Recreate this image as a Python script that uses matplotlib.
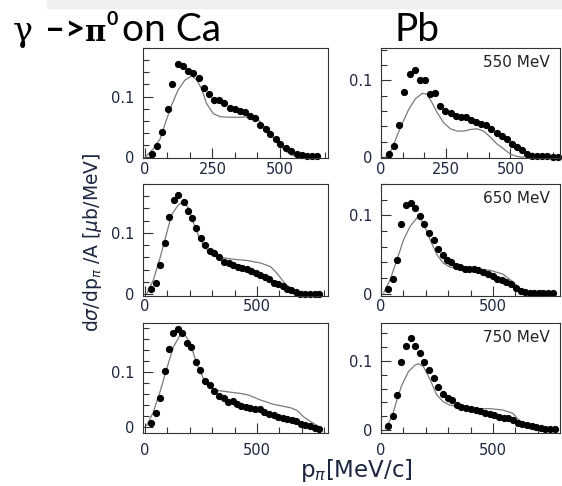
import numpy as np
import matplotlib.pyplot as plt
from matplotlib.ticker import MultipleLocator, FixedLocator
from matplotlib.patches import Rectangle

plt.rcParams['font.family'] = ['DejaVu Sans']

# ---- Ca, 550 MeV ----
ca550_x = [25, 43, 65, 84, 102, 121, 140, 158, 179, 200, 219, 236, 256, 275, 294, 315,
           333, 352, 370, 389, 409, 428, 447, 465, 484, 502, 522, 542, 562, 580, 599, 618, 638]
ca550_y = [0.005, 0.018, 0.042, 0.080, 0.120, 0.153, 0.151, 0.142, 0.139, 0.130, 0.115,
           0.104, 0.094, 0.094, 0.089, 0.082, 0.080, 0.077, 0.074, 0.068, 0.064, 0.054,
           0.047, 0.038, 0.030, 0.022, 0.015, 0.011, 0.005, 0.004, 0.003, 0.002, 0.002]
ca550_cx = [0, 31, 56, 80, 99, 123, 148, 173, 191, 210, 228, 253, 278, 315, 352, 395,
            420, 444, 469, 494, 519, 543, 574]
ca550_cy = [0.0, 0.014, 0.030, 0.062, 0.086, 0.111, 0.127, 0.134, 0.128, 0.113, 0.089,
            0.072, 0.067, 0.066, 0.066, 0.067, 0.062, 0.050, 0.036, 0.022, 0.011, 0.004, 0.0005]

# ---- Pb, 550 MeV ----
pb550_x = [32, 52, 71, 90, 111, 130, 150, 171, 191, 210, 230, 249, 271, 290, 309, 329,
           348, 367, 387, 407, 427, 449, 468, 487, 507, 526, 545, 565, 584, 603, 624, 643, 664, 683]
pb550_y = [0.004, 0.015, 0.042, 0.085, 0.108, 0.114, 0.101, 0.101, 0.082, 0.084, 0.067,
           0.060, 0.057, 0.054, 0.052, 0.052, 0.049, 0.046, 0.043, 0.042, 0.037, 0.032,
           0.028, 0.024, 0.017, 0.013, 0.009, 0.004, 0.002, 0.001, 0.001, 0.001, 0.0005, 0.0005]
pb550_cx = [17, 43, 62, 81, 107, 133, 159, 178, 197, 217, 242, 268, 294, 320, 345, 371,
            397, 423, 449, 474, 500, 526, 552]
pb550_cy = [0.0, 0.011, 0.028, 0.043, 0.062, 0.076, 0.083, 0.082, 0.071, 0.058, 0.045,
            0.037, 0.034, 0.034, 0.036, 0.037, 0.034, 0.026, 0.017, 0.011, 0.004, 0.001, 0.0]

# ---- Ca, 650 MeV ----
ca650_x = [25, 48, 67, 90, 109, 130, 149, 172, 190, 209, 228, 249, 269, 291, 310, 331,
           351, 373, 393, 413, 433, 455, 475, 496, 515, 534, 555, 575, 594, 615, 634, 654,
           676, 694, 716, 736, 757, 776]
ca650_y = [0.008, 0.019, 0.048, 0.084, 0.126, 0.154, 0.162, 0.150, 0.136, 0.125, 0.108,
           0.092, 0.081, 0.070, 0.067, 0.060, 0.052, 0.051, 0.048, 0.045, 0.043, 0.041,
           0.038, 0.035, 0.031, 0.028, 0.024, 0.019, 0.017, 0.013, 0.009, 0.007, 0.004,
           0.001, 0.001, 0.0005, 0.0005, 0.0]
ca650_cx = [8, 37, 67, 97, 119, 149, 172, 194, 216, 246, 276, 306, 336, 396, 455, 515,
            560, 590, 619, 649, 679, 709]
ca650_cy = [0.001, 0.023, 0.059, 0.100, 0.130, 0.146, 0.151, 0.141, 0.117, 0.089, 0.073,
            0.064, 0.060, 0.057, 0.055, 0.051, 0.045, 0.034, 0.020, 0.009, 0.001, 0.0]

# ---- Pb, 650 MeV ----
pb650_x = [30, 53, 71, 89, 112, 133, 153, 172, 194, 215, 236, 253, 276, 293, 312, 333,
           352, 374, 393, 416, 435, 456, 478, 500, 519, 540, 559, 581, 603, 623, 642, 663,
           683, 704, 725, 745, 766]
pb650_y = [0.006, 0.019, 0.043, 0.089, 0.113, 0.116, 0.109, 0.099, 0.089, 0.077, 0.068,
           0.057, 0.049, 0.043, 0.041, 0.035, 0.034, 0.032, 0.032, 0.031, 0.030, 0.028,
           0.025, 0.022, 0.019, 0.017, 0.015, 0.012, 0.007, 0.004, 0.002, 0.001, 0.0005,
           0.0005, 0.0005, 0.0005, 0.0005]
pb650_cx = [12, 41, 71, 101, 130, 167, 189, 219, 249, 278, 308, 367, 426, 485, 544, 589,
            618, 648, 677]
pb650_cy = [0.001, 0.018, 0.043, 0.069, 0.086, 0.099, 0.090, 0.069, 0.050, 0.039, 0.034,
            0.031, 0.031, 0.030, 0.025, 0.015, 0.007, 0.002, 0.0]

# ---- Ca, 750 MeV ----
ca750_x = [25, 48, 67, 87, 108, 127, 146, 167, 187, 206, 227, 246, 266, 288, 306, 331,
           351, 370, 391, 410, 430, 451, 470, 493, 512, 533, 552, 575, 594, 615, 634, 657,
           676, 697, 716, 736, 757, 776]
ca750_y = [0.007, 0.026, 0.053, 0.102, 0.142, 0.170, 0.179, 0.170, 0.152, 0.146, 0.119,
           0.103, 0.084, 0.076, 0.066, 0.056, 0.052, 0.046, 0.047, 0.041, 0.038, 0.036,
           0.035, 0.032, 0.032, 0.027, 0.024, 0.021, 0.019, 0.017, 0.014, 0.013, 0.011,
           0.006, 0.004, 0.002, -0.001, -0.003]
ca750_cx = [8, 37, 67, 97, 127, 157, 175, 202, 231, 261, 291, 313, 366, 425, 463, 515,
            575, 649, 679, 709, 754, 791]
ca750_cy = [0.003, 0.027, 0.064, 0.106, 0.146, 0.167, 0.170, 0.152, 0.115, 0.088, 0.072,
            0.067, 0.064, 0.061, 0.058, 0.049, 0.041, 0.035, 0.030, 0.018, 0.006, -0.003]

# ---- Pb, 750 MeV ----
pb750_x = [30, 52, 71, 90, 111, 132, 151, 172, 194, 215, 237, 256, 278, 297, 318, 339,
           359, 380, 401, 422, 442, 463, 485, 506, 527, 547, 568, 589, 611, 630, 651, 672,
           692, 713, 734, 754, 775]
pb750_y = [0.006, 0.020, 0.051, 0.098, 0.122, 0.134, 0.121, 0.111, 0.098, 0.087, 0.075,
           0.063, 0.052, 0.047, 0.043, 0.036, 0.034, 0.032, 0.030, 0.029, 0.028, 0.025,
           0.023, 0.022, 0.019, 0.018, 0.017, 0.014, 0.010, 0.009, 0.007, 0.006, 0.005,
           0.003, 0.002, 0.001, 0.001]
pb750_cx = [19, 49, 71, 93, 123, 152, 167, 189, 219, 249, 278, 308, 367, 426, 485, 544,
            589, 611, 633, 663]
pb750_cy = [0.002, 0.019, 0.044, 0.065, 0.085, 0.094, 0.096, 0.092, 0.073, 0.051, 0.041,
            0.036, 0.033, 0.031, 0.031, 0.029, 0.024, 0.016, 0.010, 0.002]

energy_labels = ['550 MeV', '650 MeV', '750 MeV']

fig = plt.figure(figsize=(5.62, 4.86), dpi=100)
W, H = 562.0, 486.0


def px_axes(l, t, r, b):
    return fig.add_axes([l / W, 1 - b / H, (r - l) / W, (b - t) / H])


tick_col = '#1c2640'

# (data x, data y, curve x, curve y, frame px, xlim, ylim, x major, x minor, label, x pad)
panels = [
    (ca550_x, ca550_y, ca550_cx, ca550_cy, (143, 48, 328, 158), (-7, 678), (-0.001, 0.18), [0, 250, 500], 250 / 3, None, 3),
    (pb550_x, pb550_y, pb550_cx, pb550_cy, (381, 48, 560, 158), (0, 692), (-0.001, 0.142), [0, 250, 500], 250 / 3, energy_labels[0], 3),
    (ca650_x, ca650_y, ca650_cx, ca650_cy, (143, 184, 328, 296), (-9, 817), (-0.003, 0.18), [0, 500], 100, None, 2),
    (pb650_x, pb650_y, pb650_cx, pb650_cy, (381, 184, 560, 296), (0, 799), (-0.003, 0.14), [0, 500], 100, energy_labels[1], 2),
    (ca750_x, ca750_y, ca750_cx, ca750_cy, (143, 323, 328, 433), (-9, 817), (-0.011, 0.189), [0, 500], 100, None, 7),
    (pb750_x, pb750_y, pb750_cx, pb750_cy, (381, 323, 560, 433), (0, 799), (-0.0043, 0.155), [0, 500], 100, energy_labels[2], 7),
]

for px, py, cx, cy, frame, xl, yl, xmaj, xmin_step, lab, xpad in panels:
    ax = px_axes(*frame)
    ax.plot(cx, cy, color='#7a7a7a', lw=0.9)
    ax.plot(px, py, 'o', color='black', ms=4.2, mec='black', clip_on=False)
    ax.set_xlim(*xl)
    ax.set_ylim(*yl)
    ax.xaxis.set_major_locator(FixedLocator(xmaj))
    ax.xaxis.set_minor_locator(MultipleLocator(xmin_step))
    ax.yaxis.set_major_locator(FixedLocator([0, 0.1]))
    ax.yaxis.set_minor_locator(MultipleLocator(0.02))
    ax.set_yticklabels(['0', '0.1'])
    ax.set_xticklabels([str(v) for v in xmaj])
    ax.tick_params(which='both', direction='in', top=False, right=False,
                   labelsize=10.5, labelcolor=tick_col, color='#333333', width=0.8)
    ax.tick_params(which='major', length=7)
    ax.tick_params(which='minor', length=4)
    ax.tick_params(axis='x', pad=xpad)
    ax.tick_params(axis='y', pad=6)
    for s in ax.spines.values():
        s.set_color('#333333')
        s.set_linewidth(0.8)
    if lab:
        ax.text(0.945, 0.87, lab, transform=ax.transAxes, ha='right', va='center',
                fontsize=11, color='#222222')

# light band at the very top
fig.patches.append(Rectangle((47 / W, 1 - 8 / H), 1 - 47 / W, 8 / H,
                             transform=fig.transFigure, color='#efefef', zorder=0))

# title pieces, laid out left to right from their rendered widths
renderer = fig.canvas.get_renderer()
yb = 1 - 41 / H


def put(x_px, y, s, gap, **kw):
    t = fig.text(x_px / W, y, s, va='baseline', **kw)
    return t.get_window_extent(renderer).x1 + gap


fig.text(13 / W, yb, 'γ', fontsize=24, family='DejaVu Serif', va='baseline')
x = put(45, yb, '–>', 0, fontsize=25, family='Lato', weight='bold')
x = put(x, yb, 'π', 0, fontsize=21, family='DejaVu Serif', weight='bold')
x = put(x, 1 - 25 / H, '0', 4, fontsize=14, family='Lato', weight='bold')
put(x, yb, 'on Ca', 0, fontsize=28, family='Lato')
fig.text(395 / W, yb, 'Pb', fontsize=28, family='Lato', va='baseline')

# axis labels
fig.text(92 / W, 1 - 242 / H, r'd$\sigma$/dp$_{\pi}$ /A [$\mu$b/MeV]', rotation=90,
         ha='center', va='center', fontsize=13.5, color=tick_col)
fig.text(356 / W, 1 - 470 / H, r'p$_{\pi}$[MeV/c]', ha='center', va='center',
         fontsize=16.5, color=tick_col)

fig.savefig('out.png', dpi=100)
